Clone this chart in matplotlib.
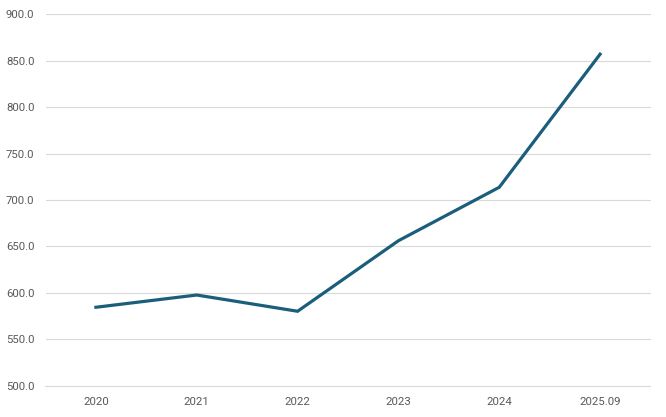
import matplotlib.pyplot as plt
from matplotlib.ticker import FormatStrFormatter

plt.rcParams['font.family'] = ['Roboto', 'DejaVu Sans']

periods = ['2020', '2021', '2022', '2023', '2024', '2025.09']
values = [584.3, 597.5, 580.0, 656.0, 713.6, 857.0]

fig = plt.figure(figsize=(6.66, 4.17), dpi=100)
ax = fig.add_axes([45.5 / 666, 31.5 / 417, 605 / 666, 371.2 / 417])

x = list(range(len(periods)))
ax.plot(x, values, color='#1b5e7b', linewidth=2.3, solid_joinstyle='miter', zorder=3)

ax.set_xlim(-0.5, len(periods) - 0.5)
ax.set_ylim(500, 900)
ax.set_yticks(range(500, 901, 50))
ax.yaxis.set_major_formatter(FormatStrFormatter('%.1f'))
ax.set_xticks(x)
ax.set_xticklabels(periods)

ax.grid(axis='y', color='#d9d9d9', linewidth=0.8)
ax.set_axisbelow(True)
for s in ['top', 'right', 'left']:
    ax.spines[s].set_visible(False)
ax.spines['bottom'].set_color('#d9d9d9')
ax.spines['bottom'].set_linewidth(0.8)

ax.tick_params(axis='both', length=0, labelsize=8.2, colors='#595959')
ax.tick_params(axis='y', pad=8)
ax.tick_params(axis='x', pad=8)

fig.savefig('out.png', dpi=100)
